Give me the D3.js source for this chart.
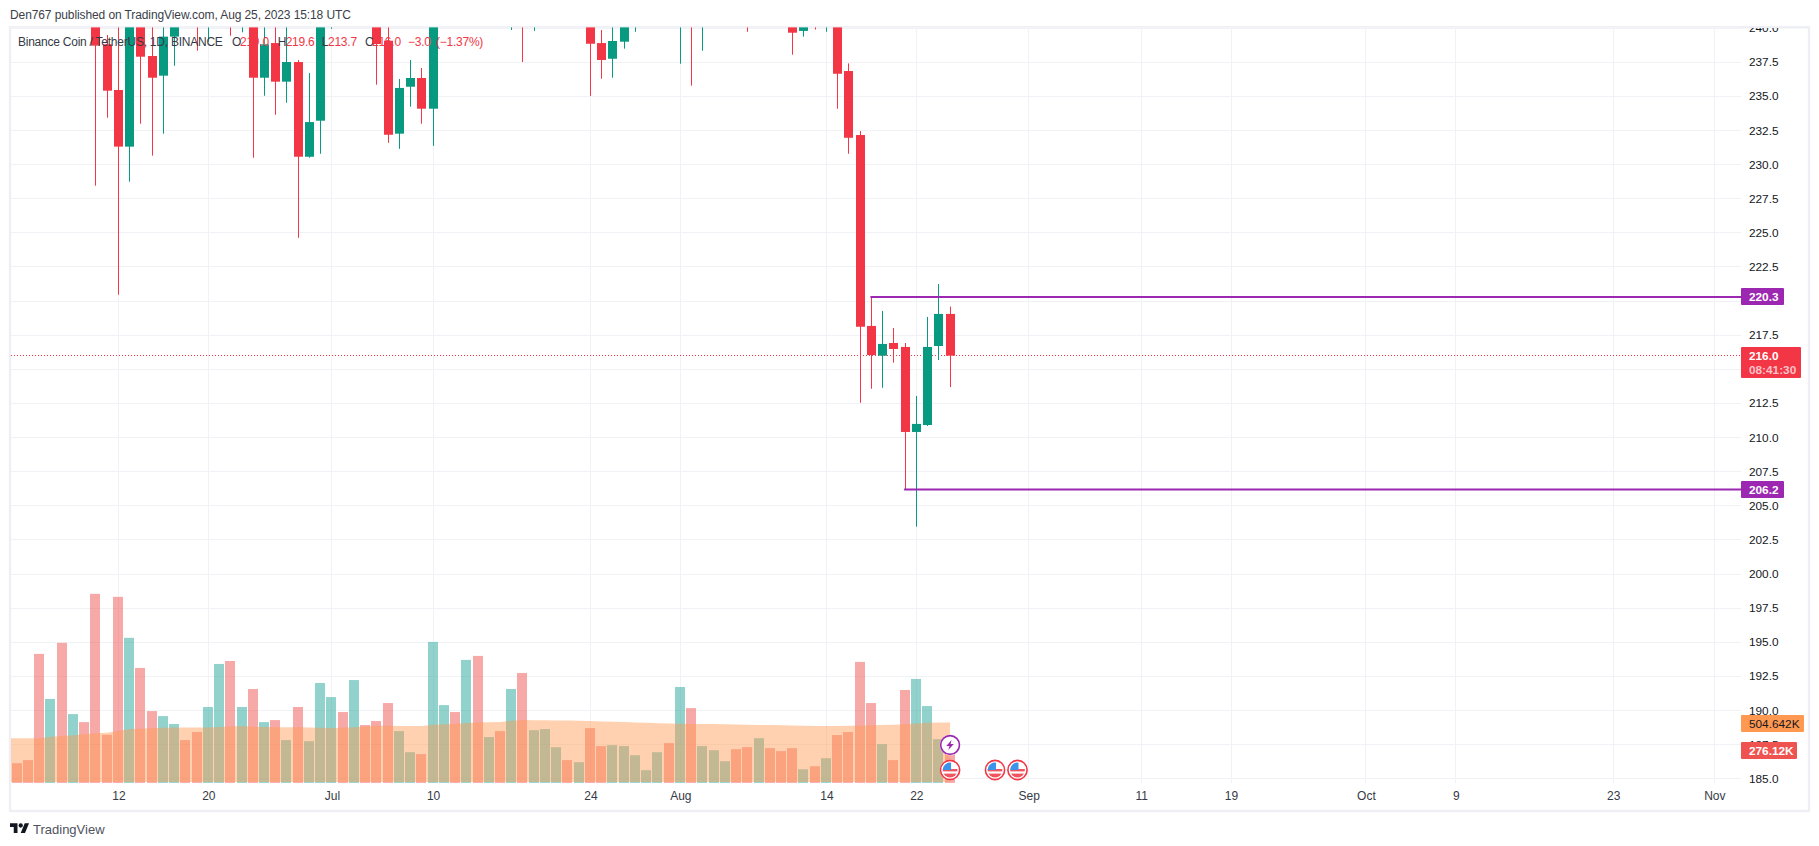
<!DOCTYPE html>
<html>
<head>
<meta charset="utf-8">
<script src="https://cdn.jsdelivr.net/npm/d3@7"></script>
<style>
  html, body { margin: 0; padding: 0; background: #fff; }
  svg { display: block; }
  text { font-family: "Liberation Sans", sans-serif; }
</style>
</head>
<body>
<script>
// Candles that reach into the visible part of the pane (anything over 240 is cut off by the pane)
var candleDays = [
  "06-10","06-11","06-12","06-13","06-14","06-15","06-16","06-17","06-19","06-20","06-22","06-23",
  "06-24","06-25","06-26","06-27","06-28","06-29","06-30","07-01","07-05","07-06","07-07","07-08",
  "07-09","07-10","07-17","07-18","07-19","07-24","07-25","07-26","07-27","07-28","08-01","08-02",
  "08-03","08-07","08-11","08-12","08-13","08-14","08-15","08-16","08-17","08-18","08-19","08-20",
  "08-21","08-22","08-23","08-24","08-25"
];
var candleOpen = [
  241.5,238.82,235.47,231.32,241.5,237.96,236.52,239.38,242,241,242,241,
  241.5,236.37,238.91,236.08,237.52,230.58,233.22,240.5,241.5,239.08,232.27,235.71,
  236.35,234.1,241,242,241,241,238.91,237.76,239.01,241,241,242,
  241,242,241.5,239.8,242,241,241.5,236.86,232.17,218.18,216.0,216.93,
  216.64,210.41,210.92,216.71,219.06
];
var candleHigh = [
  243,239.5,241,242,243,241,241,242,243,243,243,243,
  243,241,241,241,237.67,236.71,242,242,243,241,236.28,237.67,
  237.08,242,243,243,243,243,239.87,241,242,243,243,243,
  243,243,243,241,243,243,243,237.42,232.46,220.37,219.28,218.03,
  216.93,213.05,218.84,221.25,219.6
];
var candleLow = [
  228.46,233.44,220.47,228.75,233.0,230.66,232.27,237.25,238.35,239.0,239.45,239.7,
  230.51,235.05,233.66,234.54,224.64,230.51,230.8,239.95,235.86,231.6,231.16,234.25,
  233.0,231.38,239.87,237.52,239.8,235.04,236.3,236.37,238.5,239.74,237.4,235.79,
  238.35,239.74,238.06,239.38,239.9,239.74,234.1,230.8,212.55,213.58,213.65,215.49,
  206.23,203.47,210.85,215.68,213.7
];
var candleClose = [
  238.72,235.42,231.32,241.5,237.91,236.37,239.38,241,241,242,241,242,
  236.37,238.82,236.08,237.52,230.58,233.12,241.5,241.5,238.84,232.19,235.62,236.35,
  234.1,241.5,242,241,242,238.86,237.67,239.06,241,242,242,241,
  242,241,239.67,241,241,242,236.66,231.97,218.12,216.05,216.86,216.49,
  210.41,211.0,216.64,219.06,216.0
];

// Daily volume in thousands, Jun 3 to Aug 25
var volumeStart = "06-03";
var volumeValues = [
  164,190,1076,700,1168,574,507,1577,401,1552,1210,959,599,557,491,357,424,633,992,1017,633,783,507,524,357,633,348,833,
  716,591,858,482,516,666,432,256,240,1176,649,591,1026,1059,382,432,783,917,440,449,298,190,173,457,307,315,307,231,106,256,332,
  800,624,307,273,181,281,298,373,290,265,290,114,139,206,399,424,1009,666,323,190,775,867,641,365,276
];
var volumeRising = [
  0,0,0,1,0,1,0,0,0,0,1,0,0,1,1,0,0,1,1,0,1,0,1,0,1,0,1,1,
  1,0,1,0,0,0,1,1,0,1,1,0,1,0,1,0,1,0,1,1,1,0,1,0,0,1,1,1,1,1,0,
  1,0,1,1,1,0,0,1,0,0,0,1,0,1,0,0,0,0,1,0,0,1,1,1,0
];
var volumeAverage = [
  373,373,373,385,392,398,406,415,418,432,449,451,457,460,463,463,463,463,466,470,474,468,466,465,465,465,463,460,
  457,460,465,471,477,476,475,475,474,485,490,493,499,504,505,507,518,524,523,522,521,520,518,516,513,510,507,504,501,498,495,
  493,492,491,491,490,488,486,484,482,480,478,476,475,474,474,476,477,480,483,486,490,496,502,503,504.642
];

var priceTicks = [185,187.5,190,192.5,195,197.5,200,202.5,205,207.5,210,212.5,215,217.5,220,222.5,225,227.5,230,232.5,235,237.5,240];
// these two labels sit right under a badge on the scale
var coveredPriceLabels = [215, 220];
var timeTickDays = ["06-12","06-20","07-01","07-10","07-24","08-01","08-14","08-22","09-01","09-11","09-19","10-01","10-09","10-23","11-01"];
var timeTickLabels = ["12","20","Jul","10","24","Aug","14","22","Sep","11","19","Oct","9","23","Nov"];
var eventDays = ["08-25","08-29","08-31"];

var levelHigh = { start: "08-18", value: 220.3 };
var levelLow = { start: "08-21", value: 206.2 };
var lastPrice = 216.0;

var WIDTH = 1819, HEIGHT = 846;
var PANE_LEFT = 11, PANE_TOP = 28, PANE_RIGHT = 1741, PANE_BOTTOM = 783;
var RED = "#f23645", GREEN = "#089981", PURPLE = "#9c27b0", GRID = "#f1f2f5", INK = "#131722";

function day(s) { return new Date(Date.UTC(2023, +s.slice(0, 2) - 1, +s.slice(3))); }

var x = d3.scaleUtc().domain([day("06-12"), day("11-01")]).range([118.4, 1714.3]);
var y = d3.scaleLinear().domain([185, 237.5]).range([778.7, 62.3]);
var yVolume = d3.scaleLinear().domain([0, 504.642]).range([782.9, 722.4]);

var svg = d3.select("body").append("svg").attr("width", WIDTH).attr("height", HEIGHT);
var defs = svg.append("defs");
defs.append("clipPath").attr("id", "pane").append("rect")
    .attr("x", PANE_LEFT).attr("y", PANE_TOP - 1).attr("width", PANE_RIGHT - PANE_LEFT).attr("height", PANE_BOTTOM - PANE_TOP + 1);
defs.append("clipPath").attr("id", "scale").append("rect")
    .attr("x", PANE_RIGHT).attr("y", PANE_TOP).attr("width", 68).attr("height", PANE_BOTTOM - PANE_TOP);

// Frame
svg.append("rect").attr("x", 10).attr("y", 27.3).attr("width", 1799).attr("height", 783.7)
    .attr("fill", "none").attr("stroke", "#eeeff4").attr("stroke-width", 2.4);

svg.append("text").attr("x", 10).attr("y", 19).attr("font-size", 12).attr("letter-spacing", -0.1).attr("fill", "#3b3e48")
    .text("Den767 published on TradingView.com, Aug 25, 2023 15:18 UTC");

// Grid
var pane = svg.append("g").attr("clip-path", "url(#pane)");
pane.selectAll("line.h").data(priceTicks).enter().append("line").attr("class", "h")
    .attr("x1", PANE_LEFT).attr("x2", PANE_RIGHT)
    .attr("y1", function(d) { return Math.floor(y(d)) + 0.5; })
    .attr("y2", function(d) { return Math.floor(y(d)) + 0.5; })
    .attr("stroke", GRID);
pane.selectAll("line.v").data(timeTickDays).enter().append("line").attr("class", "v")
    .attr("y1", PANE_TOP).attr("y2", PANE_BOTTOM)
    .attr("x1", function(d) { return Math.floor(x(day(d))) + 0.5; })
    .attr("x2", function(d) { return Math.floor(x(day(d))) + 0.5; })
    .attr("stroke", GRID);

// Volume bars
var volumeDays = volumeValues.map(function(v, i) { return d3.utcDay.offset(day(volumeStart), i); });
pane.selectAll("rect.vol").data(volumeValues).enter().append("rect").attr("class", "vol")
    .attr("x", function(d, i) { return Math.floor(x(volumeDays[i])) - 5; })
    .attr("width", 10)
    .attr("y", function(d) { return yVolume(d); })
    .attr("height", function(d) { return yVolume(0) - yVolume(d); })
    .attr("fill", function(d, i) { return volumeRising[i] ? "#26a69a" : "#ef5350"; })
    .attr("fill-opacity", 0.5);

// Volume average area, starts at the pane edge
var area = d3.area()
    .x(function(d, i) { return i === 0 ? PANE_LEFT : x(volumeDays[i]); })
    .y0(yVolume(0) - 1)
    .y1(function(d) { return yVolume(d); });
pane.append("path").datum(volumeAverage).attr("d", area)
    .attr("fill", "#ff9850").attr("fill-opacity", 0.45);

// Last price line
pane.append("line").attr("x1", PANE_LEFT).attr("x2", PANE_RIGHT)
    .attr("y1", Math.floor(y(lastPrice)) + 0.5).attr("y2", Math.floor(y(lastPrice)) + 0.5)
    .attr("stroke", RED).attr("stroke-dasharray", "1 2");

// Candles
var candles = candleDays.map(function(d, i) {
  return { x: Math.floor(x(day(d))), o: candleOpen[i], h: candleHigh[i], l: candleLow[i], c: candleClose[i] };
});
function candleColor(d) { return d.c > d.o ? GREEN : RED; }
pane.selectAll("rect.wick").data(candles).enter().append("rect").attr("class", "wick")
    .attr("x", function(d) { return d.x; })
    .attr("width", 1)
    .attr("y", function(d) { return y(d.h); })
    .attr("height", function(d) { return y(d.l) - y(d.h); })
    .attr("fill", candleColor);
pane.selectAll("rect.body").data(candles).enter().append("rect").attr("class", "body")
    .attr("x", function(d) { return d.x - 4; })
    .attr("width", 9)
    .attr("y", function(d) { return y(Math.max(d.o, d.c)); })
    .attr("height", function(d) { return y(Math.min(d.o, d.c)) - y(Math.max(d.o, d.c)); })
    .attr("fill", candleColor);

// Horizontal levels
[levelHigh, levelLow].forEach(function(level) {
  pane.append("line")
      .attr("x1", x(day(level.start)) - 1).attr("x2", PANE_RIGHT)
      .attr("y1", y(level.value)).attr("y2", y(level.value))
      .attr("stroke", PURPLE).attr("stroke-width", 2);
});

// Top row of the pane is washed out by the frame
svg.append("rect").attr("x", PANE_LEFT).attr("y", 27).attr("width", PANE_RIGHT - PANE_LEFT).attr("height", 1)
    .attr("fill", "#fff").attr("fill-opacity", 0.35);

// Price scale
var priceAxis = d3.axisRight(y)
    .tickValues(priceTicks.filter(function(d) { return coveredPriceLabels.indexOf(d) < 0; }))
    .tickSize(0).tickPadding(8)
    .tickFormat(d3.format(".1f"));
svg.append("g").attr("clip-path", "url(#scale)")
  .append("g").attr("transform", "translate(" + PANE_RIGHT + ",0)").call(priceAxis)
    .call(function(g) { g.select(".domain").remove(); })
    .selectAll("text").attr("font-size", 11.8).attr("font-family", null).attr("dy", "0.3em").attr("fill", INK);

// Time scale
var timeAxis = d3.axisBottom(x).tickValues(timeTickDays.map(day)).tickSize(0).tickPadding(8)
    .tickFormat(function(d, i) { return timeTickLabels[i]; });
svg.append("g").attr("transform", "translate(0," + PANE_BOTTOM + ")").call(timeAxis)
    .call(function(g) { g.select(".domain").remove(); })
    .selectAll("text").attr("font-size", 12).attr("font-family", null).attr("fill", "#363a45");

// Price scale badges
function badge(y0, h, w, fill) {
  svg.append("rect").attr("x", PANE_RIGHT).attr("y", y0).attr("width", w).attr("height", h)
      .attr("rx", 1).attr("fill", fill);
}
function badgeText(cy, str, fill, weight) {
  svg.append("text").attr("x", PANE_RIGHT + 8).attr("y", cy).attr("dy", "0.35em")
      .attr("font-size", 11.8).attr("font-weight", weight).attr("fill", fill).text(str);
}
badge(288, 17, 43, PURPLE);
badgeText(296.5, "220.3", "#fff", 700);
badge(481, 17, 43, PURPLE);
badgeText(489.5, "206.2", "#fff", 700);
badge(347, 31, 60, RED);
badgeText(355.5, "216.0", "#fff", 700);
badgeText(369.5, "08:41:30", "#fcc2c8", 700);
badge(715, 17, 63, "#ff9850");
badgeText(723.5, "504.642K", INK, 400);
badge(742, 17, 56, "#ef5350");
badgeText(750.5, "276.12K", "#fff", 700);

// Legend
var legend = svg.append("text").attr("y", 46).attr("font-size", 12).attr("letter-spacing", -0.24);
[
  [18, "Binance Coin / TetherUS, 1D, BINANCE", "#363a45"],
  [232, "O", "#363a45"], [240, "219.0", RED],
  [277.7, "H", "#363a45"], [285.7, "219.6", RED],
  [321.7, "L", "#363a45"], [328, "213.7", RED],
  [365, "C", "#363a45"], [372, "216.0", RED],
  [408, "\u22123.0", RED], [436, "(\u22121.37%)", RED]
].forEach(function(t) {
  legend.append("tspan").attr("x", t[0]).attr("fill", t[2]).text(t[1]);
});

// Event markers under the last candles
function usFlag(cx, cy, id) {
  var g = svg.append("g").attr("transform", "translate(" + cx + "," + cy + ")");
  defs.append("clipPath").attr("id", id).append("circle").attr("r", 7.4);
  g.append("circle").attr("r", 10.4).attr("fill", "#fff");
  g.append("circle").attr("r", 9.6).attr("fill", "#fff").attr("stroke", RED).attr("stroke-width", 1.6);
  var inner = g.append("g").attr("clip-path", "url(#" + id + ")");
  inner.append("rect").attr("x", -8).attr("y", -8).attr("width", 16).attr("height", 16).attr("fill", "#fff");
  inner.append("rect").attr("x", -8).attr("y", -1).attr("width", 16).attr("height", 2.4).attr("fill", "#f0555f");
  inner.append("rect").attr("x", -8).attr("y", 3.6).attr("width", 16).attr("height", 4.4).attr("fill", "#f0555f");
  inner.append("rect").attr("x", -8).attr("y", -8).attr("width", 9).attr("height", 8).attr("fill", "#3d93ea");
}
eventDays.forEach(function(d, i) { usFlag(x(day(d)), 770, "flag" + i); });

var bolt = svg.append("g").attr("transform", "translate(" + x(day("08-25")) + ",745)");
bolt.append("circle").attr("r", 10.4).attr("fill", "#fff");
bolt.append("circle").attr("r", 9.4).attr("fill", "#fff").attr("stroke", PURPLE).attr("stroke-width", 1.6);
bolt.append("path").attr("d", "M1.5 -5 L-3.8 1 L-0.6 1 L-1.8 5 L3.8 -1 L0.5 -1 Z").attr("fill", PURPLE);

// Footer logo
var logo = svg.append("g").attr("transform", "translate(10,821.2) scale(0.536)").attr("fill", "#131722");
logo.append("path").attr("d", "M14 22H7V11H0V4h14v18zM28 22h-8l7.5-18h8L28 22z");
logo.append("circle").attr("cx", 20).attr("cy", 8).attr("r", 4);
svg.append("text").attr("x", 33).attr("y", 834).attr("font-size", 13).attr("fill", "#50535e").text("TradingView");
</script>
</body>
</html>
